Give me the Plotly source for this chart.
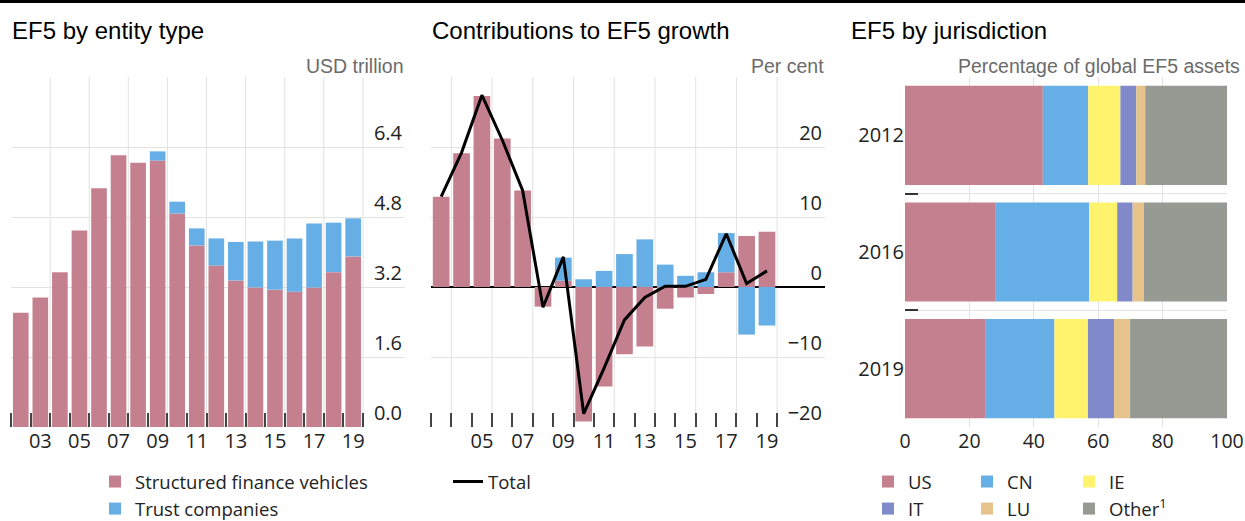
import plotly.graph_objects as go

# ---------------- data ----------------
years_a = list(range(2002, 2020))
sfv_a = [2.61, 2.96, 3.54, 4.49, 5.46, 6.21, 6.04, 6.09, 4.88, 4.15, 3.69, 3.35, 3.19, 3.14, 3.09, 3.19, 3.54, 3.90]
trust_a = [0, 0, 0, 0, 0, 0, 0, 0.21, 0.27, 0.39, 0.62, 0.88, 1.05, 1.12, 1.22, 1.46, 1.13, 0.87]

years_b = list(range(2003, 2020))
sfv_b = [12.9, 19.1, 27.3, 21.2, 13.8, -2.8, 0.9, -19.2, -14.2, -9.6, -8.5, -3.1, -1.5, -1.0, 2.1, 7.3, 7.9]
trust_b = [0, 0, 0, 0, 0, 0, 3.3, 1.1, 2.3, 4.7, 6.8, 3.2, 1.6, 2.1, 5.6, -6.8, -5.5]
total_b = [12.9, 19.2, 27.4, 21.0, 13.8, -2.9, 4.3, -18.1, -11.6, -4.7, -1.5, 0.1, 0.1, 1.1, 7.6, 0.5, 2.3]

juris_years = ["2012", "2016", "2019"]
us = [42.8, 28.2, 25.1]
cn = [14.1, 29.0, 21.3]
ie = [10.0, 8.7, 10.4]
it = [4.9, 4.8, 8.1]
lu = [2.8, 3.5, 5.0]
other = [25.4, 25.8, 30.1]

pct_ticks = [0, 20, 40, 60, 80, 100]
labels_a = [2003, 2005, 2007, 2009, 2011, 2013, 2015, 2017, 2019]
labels_b = [2005, 2007, 2009, 2011, 2013, 2015, 2017, 2019]

# ---------------- style ----------------
PINK = "#c4808f"
BLUE = "#66aee6"
YELLOW = "#fff36e"
PURPLE = "#8089c9"
TAN = "#e6c38b"
GREY = "#959a93"
GRID = "#e2e2e2"
FAM = "Open Sans"
TICKFONT = dict(family=FAM, size=20, color="#222")
LEGFONT = dict(family=FAM, size=18.5, color="#222")
W, H = 1245, 521

def px_x(p):
    return p / W

def px_y(p):
    return 1 - p / H

ydom = [px_y(427), px_y(77)]

fig = go.Figure()

# Panel 1
fig.add_trace(go.Bar(x=years_a, y=sfv_a, name="Structured finance vehicles", marker_color=PINK,
                     marker_line_width=0, width=0.8, xaxis="x", yaxis="y", legend="legend"))
fig.add_trace(go.Bar(x=years_a, y=trust_a, name="Trust companies", marker_color=BLUE,
                     marker_line_width=0, width=0.8, xaxis="x", yaxis="y", legend="legend"))

# Panel 2
fig.add_trace(go.Bar(x=years_b, y=sfv_b, name="SFV", marker_color=PINK, marker_line_width=0,
                     width=0.82, xaxis="x2", yaxis="y2", showlegend=False))
fig.add_trace(go.Bar(x=years_b, y=trust_b, name="Trust", marker_color=BLUE, marker_line_width=0,
                     width=0.82, xaxis="x2", yaxis="y2", showlegend=False))
fig.add_trace(go.Scatter(x=years_b, y=total_b, name="Total", mode="lines",
                         line=dict(color="black", width=3), xaxis="x2", yaxis="y2", legend="legend2"))

# Panel 3
series3 = [("US", us, PINK, "legend3"), ("CN", cn, BLUE, "legend4"), ("IE", ie, YELLOW, "legend5"),
           ("IT", it, PURPLE, "legend3"), ("LU", lu, TAN, "legend4"), ("Other<sup>1</sup>", other, GREY, "legend5")]
for name, vals, col, lg in series3:
    fig.add_trace(go.Bar(y=juris_years, x=vals, orientation="h", name=name, marker_color=col,
                         marker_line_width=0, xaxis="x3", yaxis="y3", legend=lg))

# vertical gridlines at odd-year ends
shapes = []
for yrs, xr, yr in [(years_a, "x", "y domain"), (years_b, "x2", "y2 domain")]:
    for yv in yrs:
        if yv % 2 == 1:
            shapes.append(dict(type="line", xref=xr, yref=yr, x0=yv + 0.5, x1=yv + 0.5, y0=0, y1=1,
                               line=dict(color=GRID, width=1), layer="below"))
# top rule
shapes.append(dict(type="line", xref="paper", yref="paper", x0=0, x1=1, y0=px_y(1.5), y1=px_y(1.5),
                   line=dict(color="black", width=3)))

common_x = dict(showgrid=False, zeroline=False, showline=False, ticks="", tickfont=TICKFONT,
                fixedrange=True)

LEG_TOP = 463

def leg(xp):
    return dict(x=px_x(xp), y=px_y(LEG_TOP), xanchor="left", yanchor="top", bgcolor="rgba(0,0,0,0)",
                font=LEGFONT, tracegroupgap=0)

fig.update_layout(
    width=W, height=H, margin=dict(l=0, r=0, t=0, b=0, autoexpand=False),
    paper_bgcolor="white", plot_bgcolor="white",
    barmode="relative", bargap=0.15,
    font=dict(family=FAM, size=19, color="#222"),
    xaxis=dict(domain=[px_x(11), px_x(405)], range=[2001.5, 2021.65], anchor="y",
               tickmode="array", tickvals=labels_a, ticktext=[f"{y % 100:02d}" for y in labels_a],
               minor=dict(tickmode="array", tickvals=[y - 0.5 for y in years_a] + [years_a[-1] + 0.5],
                          ticks="inside", ticklen=14, tickwidth=2, tickcolor="#444", showgrid=False),
               **common_x),
    yaxis=dict(domain=ydom, range=[0, 8], anchor="x", side="right", tickmode="array",
               tickvals=[0, 1.6, 3.2, 4.8, 6.4], ticktext=["0.0", "1.6", "3.2", "4.8", "6.4"],
               ticklabelposition="inside top", showgrid=True, gridcolor=GRID,
               gridwidth=1, zeroline=False, showline=False, ticks="", tickfont=TICKFONT),
    xaxis2=dict(domain=[px_x(431), px_x(825)], range=[2002.5, 2021.85], anchor="y2",
                tickmode="array", tickvals=labels_b, ticktext=[f"{y % 100:02d}" for y in labels_b],
                minor=dict(tickmode="array", tickvals=[y - 0.5 for y in years_b] + [years_b[-1] + 0.5],
                           ticks="inside", ticklen=14, tickwidth=2, tickcolor="#444", showgrid=False),
                **common_x),
    yaxis2=dict(domain=ydom, range=[-20, 30], anchor="x2", side="right", tickmode="array",
                tickvals=[-20, -10, 0, 10, 20], ticklabelposition="inside top",
                showgrid=True, gridcolor=GRID, gridwidth=1, zeroline=True, zerolinecolor="black",
                zerolinewidth=2, showline=False, ticks="", tickfont=TICKFONT),
    xaxis3=dict(domain=[px_x(905), px_x(1227)], range=[0, 100], anchor="y3", tickmode="array",
                tickvals=pct_ticks, showgrid=True, gridcolor=GRID, zeroline=False,
                showline=False, ticks="", tickfont=dict(family=FAM, size=19.5, color="#222"),
                ticklabeloverflow="allow"),
    yaxis3=dict(domain=ydom, anchor="x3", type="category", categoryorder="array",
                categoryarray=juris_years[::-1], range=[-0.5, 2.5], tickson="boundaries",
                ticks="inside", ticklen=13, tickwidth=2, tickcolor="#333", showgrid=True,
                gridcolor=GRID, zeroline=False, showline=False, tickfont=TICKFONT),
    shapes=shapes,
    legend=leg(95),
    legend2=leg(448),
    legend3=leg(868),
    legend4=leg(967),
    legend5=leg(1069),
)

titles = [("EF5 by entity type", 10), ("Contributions to EF5 growth", 430), ("EF5 by jurisdiction", 849)]
for t, xp in titles:
    fig.add_annotation(text=t, xref="paper", yref="paper", x=px_x(xp), y=px_y(30), xanchor="left",
                       yanchor="middle", showarrow=False,
                       font=dict(family="Liberation Sans", size=24, color="black"))
units = [("USD trillion", 406), ("Per cent", 826), ("Percentage of global EF5 assets", 1242)]
for t, xp in units:
    fig.add_annotation(text=t, xref="paper", yref="paper", x=px_x(xp), y=px_y(66), xanchor="right",
                       yanchor="middle", showarrow=False,
                       font=dict(family="Liberation Sans", size=19.5, color="#6b6b6b"))

fig.write_html(
    "out.html",
    config={"displayModeBar": False, "staticPlot": True},
    post_script=("document.documentElement.style.margin='0';document.documentElement.style.overflow='hidden';"
                 "document.body.style.margin='0';document.body.style.overflow='hidden';"),
)
